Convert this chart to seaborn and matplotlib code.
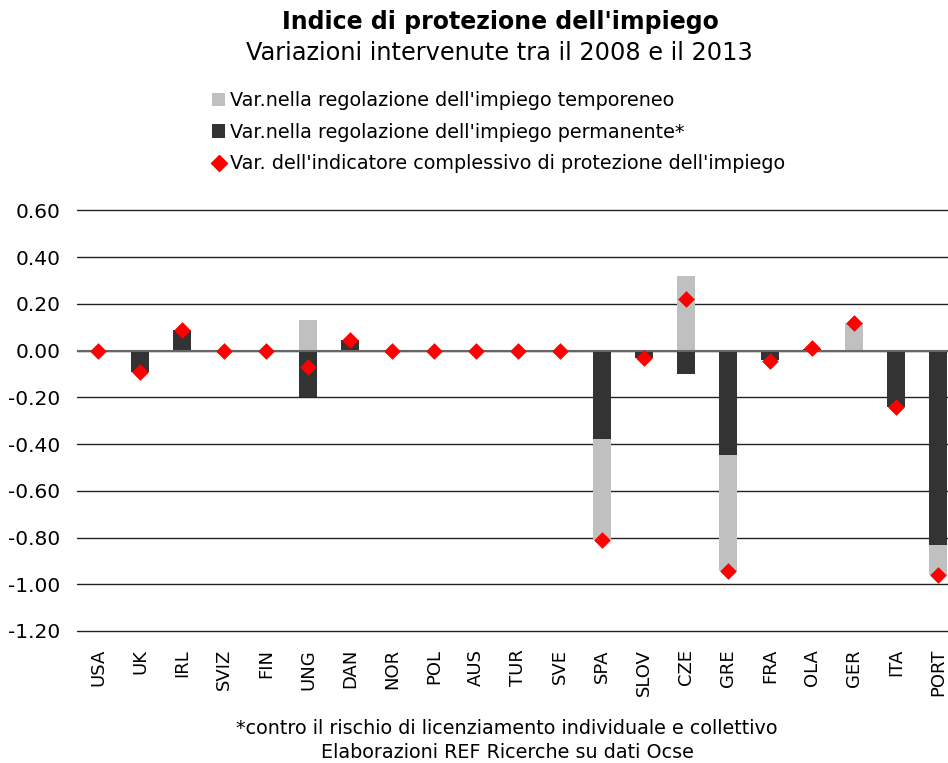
import matplotlib
matplotlib.use("Agg")
import matplotlib.pyplot as plt
from matplotlib.patches import Patch
from matplotlib.lines import Line2D
import seaborn as sns
import pandas as pd
import numpy as np

countries = ["USA", "UK", "IRL", "SVIZ", "FIN", "UNG", "DAN", "NOR", "POL", "AUS", "TUR",
             "SVE", "SPA", "SLOV", "CZE", "GRE", "FRA", "OLA", "GER", "ITA", "PORT"]
temporaneo = [0.00, 0.00, 0.00, 0.00, 0.00, 0.13, 0.00, 0.00, 0.00, 0.00, 0.00,
              0.00, -0.43, 0.00, 0.32, -0.50, 0.00, 0.00, 0.12, 0.00, -0.13]
permanente = [0.00, -0.09, 0.09, 0.00, 0.00, -0.20, 0.045, 0.00, 0.00, 0.00, 0.00,
              0.00, -0.38, -0.03, -0.10, -0.445, -0.04, 0.005, 0.00, -0.24, -0.83]
complessivo = [0.00, -0.09, 0.09, 0.00, 0.00, -0.07, 0.045, 0.00, 0.00, 0.00, 0.00,
               0.00, -0.81, -0.03, 0.22, -0.945, -0.045, 0.01, 0.12, -0.24, -0.96]
yticks = [0.60, 0.40, 0.20, 0.00, -0.20, -0.40, -0.60, -0.80, -1.00, -1.20]

LIGHT = "#C0C0C0"
DARK = "#333333"
RED = "#FF0000"

df = pd.DataFrame({"paese": countries, "temp": temporaneo, "perm": permanente,
                   "tot": complessivo})
# light segment stacks on the dark one when both move in the same direction
same = np.sign(df["temp"]) == np.sign(df["perm"])
df["temp_end"] = np.where(same, df["temp"] + df["perm"], df["temp"])

sns.set_theme(style="white")
plt.rcParams["font.family"] = ["DejaVu Sans"]
plt.rcParams["text.color"] = "black"

fig = plt.figure(figsize=(9.48, 7.63), dpi=100)
ax = fig.add_axes([77 / 948, 132 / 763, 882 / 948, 420.5 / 763])

sns.barplot(data=df, x="paese", y="temp_end", color=LIGHT, saturation=1,
            width=0.42, ax=ax, order=countries, zorder=2, linewidth=0)
sns.barplot(data=df, x="paese", y="perm", color=DARK, saturation=1,
            width=0.42, ax=ax, order=countries, zorder=3, linewidth=0)
sns.stripplot(data=df, x="paese", y="tot", color=RED, marker="D", size=8.5,
              jitter=False, linewidth=0, ax=ax, order=countries, zorder=4)

ax.set_ylim(-1.2, 0.6)
ax.set_yticks(yticks)
ax.set_yticklabels([f"{v:.2f}" for v in yticks], fontsize=14.5)
ax.set_xlim(-0.5, len(countries) - 0.5)
ax.tick_params(axis="x", labelrotation=90, labelsize=13, length=0, pad=13,
               labelcolor="black")
ax.tick_params(axis="y", length=0, pad=12, labelcolor="black")
for v in yticks:
    ax.axhline(v, color="#222222", linewidth=1.0, zorder=1, clip_on=False)
ax.axhline(0, color="#666666", linewidth=1.5, zorder=3.5)
for s in ax.spines.values():
    s.set_visible(False)
ax.set_xlabel("")
ax.set_ylabel("")
ax.grid(False)

fig.text(500 / 948, 1 - 22 / 763, "Indice di protezione dell'impiego",
         ha="center", va="center", fontsize=17, fontweight="bold")
fig.text(499 / 948, 1 - 53 / 763, "Variazioni intervenute tra il 2008 e il 2013",
         ha="center", va="center", fontsize=17.3)

handles = [Patch(facecolor=LIGHT, edgecolor="none"),
           Patch(facecolor=DARK, edgecolor="none"),
           Line2D([], [], marker="D", color=RED, linestyle="none", markersize=8)]
labels = ["Var.nella regolazione dell'impiego temporeneo",
          "Var.nella regolazione dell'impiego permanente*",
          "Var. dell'indicatore complessivo di protezione dell'impiego"]
fig.legend(handles, labels, loc="upper left", bbox_to_anchor=(212 / 948, 1 - 91 / 763),
           frameon=False, fontsize=13.8, handlelength=0.7, handleheight=0.7,
           handletextpad=0.25, labelspacing=0.66, borderaxespad=0, borderpad=0)

fig.text(507 / 948, 1 - 729 / 763,
         "*contro il rischio di licenziamento individuale e collettivo",
         ha="center", va="center", fontsize=13.8)
fig.text(507 / 948, 1 - 753 / 763, "Elaborazioni REF Ricerche su dati Ocse",
         ha="center", va="center", fontsize=13.8)

fig.savefig("out.png", dpi=100)
